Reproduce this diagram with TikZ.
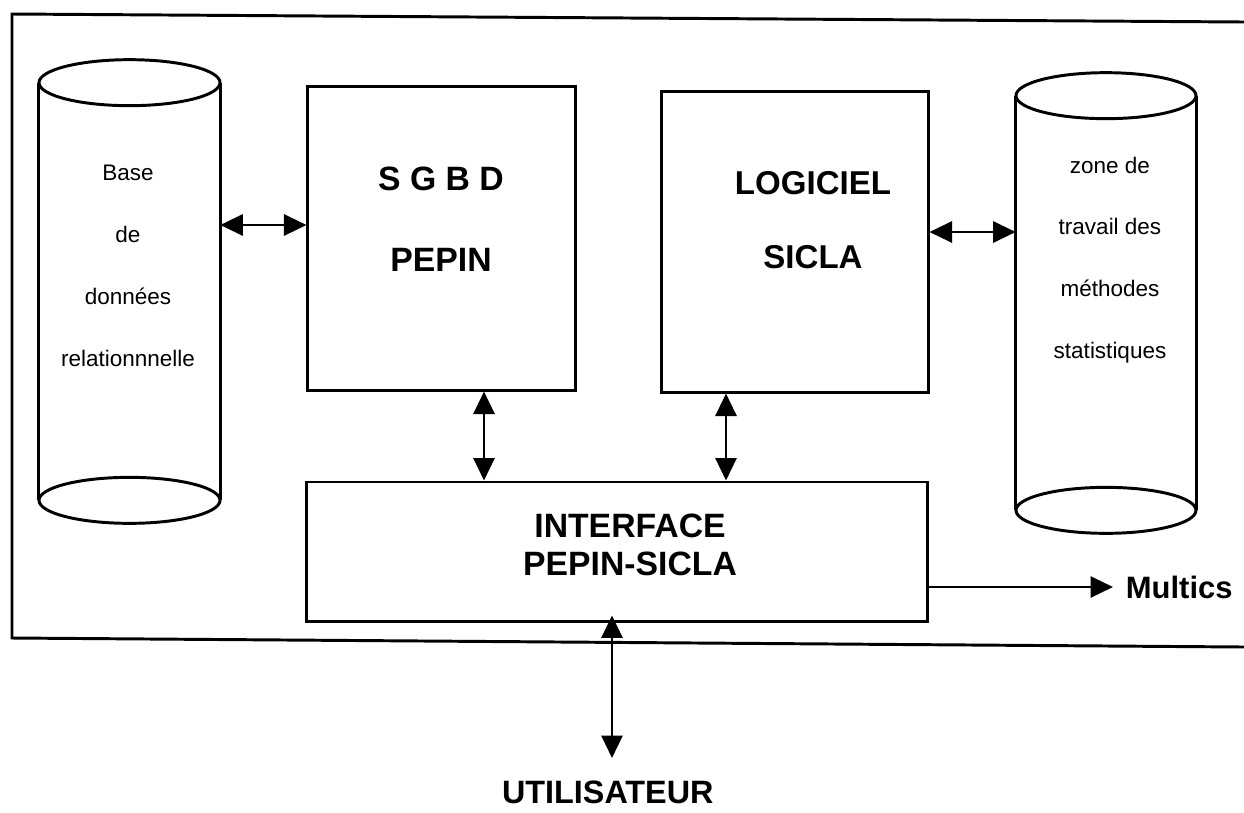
\documentclass[tikz,border=0pt]{standalone}
\usepackage{fontspec}
\setmainfont{Liberation Sans}
\usetikzlibrary{arrows.meta,positioning}

\tikzset{
	boite/.style={rectangle, draw, line width=2.1pt},
	corps/.style={rectangle, inner sep=0pt},
	bord/.style={line width=2.1pt},
	petit/.style={align=center, font=\fontsize{16}{44}\selectfont},
	titre/.style={align=center, inner sep=3pt, font=\bfseries\fontsize{22}{26}\selectfont},
	fleche/.style={line width=1.8pt, {Triangle[length=16pt,width=15pt]}-{Triangle[length=16pt,width=15pt]}},
	simple/.style={line width=1.8pt, -{Triangle[length=16pt,width=15pt]}}
}

\begin{document}
\begin{tikzpicture}
	\begin{scope}[x=0.025cm,y=-0.025cm]
	\useasboundingbox (0,0) rectangle (1244,812);
	% cadre ouvert a droite
	\draw[bord] (1244,22) -- (12,14) -- (12,638) -- (1244,647);
	% description et nommage des noeuds
	\node (BD) at (129.5,291.5) [corps, minimum width=4.525cm, minimum height=10.425cm] {};
	\node (ZT) at (1106,303) [corps, minimum width=4.5cm, minimum height=10.35cm] {};
	\node (SG) at (441.5,238.5) [boite, minimum width=6.675cm, minimum height=7.575cm] {};
	\node (LS) at (795,242) [boite, minimum width=6.65cm, minimum height=7.5cm] {};
	\node (IF) at (617,551.5) [boite, minimum width=15.5cm, minimum height=3.475cm] {};
	% les deux cylindres
	\draw[bord] (BD.north west) -- (BD.south west);
	\draw[bord] (BD.north east) -- (BD.south east);
	\draw[bord] (BD.north) ellipse [x radius=90.5, y radius=23];
	\draw[bord] (BD.south) ellipse [x radius=90.5, y radius=23];
	\draw[bord] (ZT.north west) -- (ZT.south west);
	\draw[bord] (ZT.north east) -- (ZT.south east);
	\draw[bord] (ZT.north) ellipse [x radius=90, y radius=23];
	\draw[bord] (ZT.south) ellipse [x radius=90, y radius=23];
	% textes
	\node (BDt) at (128,266) [petit] {Base\\de\\données\\relationnnelle};
	\node (ZTt) at (1110,260) [petit] {zone de\\travail des\\méthodes\\statistiques};
	\node (SGt) at (441,219) [titre, font=\bfseries\fontsize{24}{58}\selectfont] {S G B D\\PEPIN};
	\node (LSt) at (813,220) [titre, font=\bfseries\fontsize{23.5}{53}\selectfont] {LOGICIEL\\SICLA};
	\node (IFt) at (630,545) [titre, font=\bfseries\fontsize{24}{27}\selectfont] {INTERFACE\\PEPIN-SICLA};
	\coordinate (Mpt) at (1113,587);
	\coordinate (Upt) at (612,758);
	\node (MU) [titre, right=6pt of Mpt] {Multics};
	\node (UT) [titre, font=\bfseries\fontsize{23}{27}\selectfont, below=13pt of Upt, xshift=-3pt] {UTILISATEUR};
	% liaisons
	\draw[fleche] (BD.east |- 0,225) -- (SG.west |- 0,225);
	\draw[fleche] (LS.east |- 0,232) -- (ZT.west |- 0,232);
	\draw[fleche] (SG.south -| 484,0) -- (IF.north -| 484,0);
	\draw[fleche] (LS.south -| 726,0) -- (IF.north -| 726,0);
	\draw[fleche, shorten <=-5pt] (IF.south -| Upt) -- (Upt);
	\draw[simple] (IF.east |- Mpt) -- (Mpt);
	\end{scope}
\end{tikzpicture}
\end{document}
